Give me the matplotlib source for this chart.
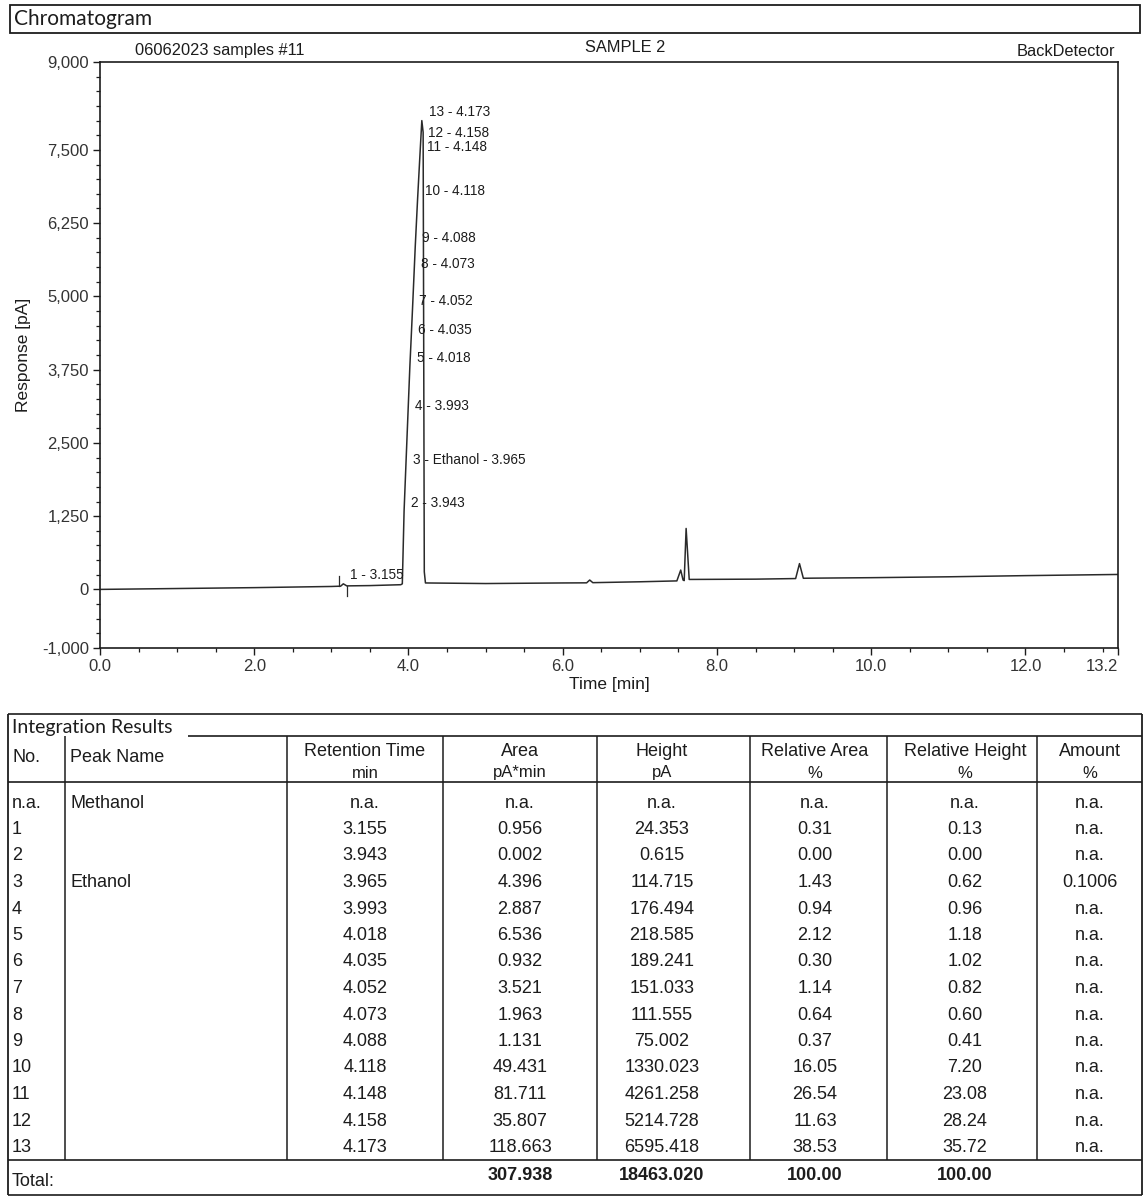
import matplotlib
matplotlib.use("Agg")
import matplotlib.pyplot as plt
from matplotlib.patches import Rectangle
from matplotlib.ticker import FixedLocator, MultipleLocator, FuncFormatter

plt.rcParams['font.family'] = ['Liberation Sans', 'DejaVu Sans']

INK = '#1c1c1c'

# ---- detected peaks (labelled on the trace) ----
peak_no = [1, 2, 3, 4, 5, 6, 7, 8, 9, 10, 11, 12, 13]
peak_name = ["", "", "Ethanol", "", "", "", "", "", "", "", "", "", ""]
peak_rt = [3.155, 3.943, 3.965, 3.993, 4.018, 4.035, 4.052, 4.073, 4.088,
           4.118, 4.148, 4.158, 4.173]
peak_top = [95, 1340, 2070, 2990, 3810, 4290, 4780, 5410, 5860,
            6660, 7400, 7640, 8000]

# ---- rest of the detector trace (time in min, response in pA) ----
trace_t = [0.0, 1.0, 2.0, 3.0, 3.12, 3.20, 3.5, 3.90, 3.92,
           4.19, 4.205, 4.22, 5.0, 6.0, 6.31, 6.35, 6.39, 7.0,
           7.48, 7.53, 7.56, 7.575, 7.60, 7.64, 8.5,
           9.02, 9.07, 9.12, 9.25, 10.0, 11.0, 12.0, 13.2]
trace_pa = [0, 15, 30, 50, 55, 60, 65, 80, 95,
            7800, 300, 110, 100, 110, 112, 160, 115, 130,
            145, 330, 160, 150, 1040, 170, 175,
            185, 440, 190, 192, 200, 215, 235, 255]
peak1_marks = [3.10, 3.20]

# ---- integration results table ----
tab_no = ["n.a."] + [str(n) for n in peak_no]
tab_name = ["Methanol", "", "", "Ethanol", "", "", "", "", "", "", "", "", "", ""]
tab_rt = [None] + peak_rt
tab_area = [None, 0.956, 0.002, 4.396, 2.887, 6.536, 0.932, 3.521, 1.963,
            1.131, 49.431, 81.711, 35.807, 118.663]
tab_height = [None, 24.353, 0.615, 114.715, 176.494, 218.585, 189.241, 151.033,
              111.555, 75.002, 1330.023, 4261.258, 5214.728, 6595.418]
tab_rel_area = [None, 0.31, 0.00, 1.43, 0.94, 2.12, 0.30, 1.14, 0.64, 0.37,
                16.05, 26.54, 11.63, 38.53]
tab_rel_height = [None, 0.13, 0.00, 0.62, 0.96, 1.18, 1.02, 0.82, 0.60, 0.41,
                  7.20, 23.08, 28.24, 35.72]
tab_amount = [None, None, None, 0.1006, None, None, None, None, None, None,
              None, None, None, None]
total_area = 307.938
total_height = 18463.020
total_rel_area = 100.00
total_rel_height = 100.00

y_ticks = [-1000, 0, 1250, 2500, 3750, 5000, 6250, 7500, 9000]
x_ticks = [0.0, 2.0, 4.0, 6.0, 8.0, 10.0, 12.0, 13.2]

W, H = 1144, 1200
fig = plt.figure(figsize=(W / 100, H / 100), dpi=100)
fig.patch.set_facecolor('white')

# page overlay in pixel units for boxes, headings and the table
ov = fig.add_axes([0, 0, 1, 1])
ov.set_xlim(0, W)
ov.set_ylim(H, 0)
ov.axis('off')

def hline(y, x0=8, x1=1142, lw=1.2):
    ov.plot([x0, x1], [y, y], color=INK, lw=lw, solid_capstyle='butt')

def vline(x, y0, y1, lw=1.1):
    ov.plot([x, x], [y0, y1], color=INK, lw=lw, solid_capstyle='butt')

# section header
ov.add_patch(Rectangle((10, 5), 1130, 28, fill=False, ec=INK, lw=1.3))
ov.text(14, 19, "Chromatogram", family='Lato', fontsize=15, color=INK, va='center')

ov.text(135, 50, "06062023 samples #11", fontsize=11.8, color=INK, va='center')
ov.text(625, 47, "SAMPLE 2", fontsize=11.8, color=INK, va='center', ha='center')
ov.text(1115, 51, "BackDetector", fontsize=11.8, color=INK, va='center', ha='right')

# ---- chromatogram ----
ax = fig.add_axes([100 / W, 1 - 648 / H, 1018 / W, (648 - 62) / H])
pts = sorted(zip(trace_t + peak_rt, trace_pa + peak_top))
ax.plot([p[0] for p in pts], [p[1] for p in pts], color='#2a2a2a', lw=1.1)

for t, d in zip(peak1_marks, [1, -1]):
    ax.plot([t, t], [60, 60 + d * 170], color='#2a2a2a', lw=0.9)

for no, name, rt, top in zip(peak_no, peak_name, peak_rt, peak_top):
    lab = f"{no} - {name} - {rt:.3f}" if name else f"{no} - {rt:.3f}"
    ax.annotate(lab, (rt, top), xytext=(5, 6), textcoords='offset points',
                fontsize=9.8, color=INK, va='center', ha='left')

ax.set_xlim(0, 13.2)
ax.set_ylim(-1000, 9000)
ax.xaxis.set_major_locator(FixedLocator(x_ticks))
ax.xaxis.set_minor_locator(MultipleLocator(0.5))
ax.xaxis.set_major_formatter(FuncFormatter(lambda v, p: f"{v:.1f}"))
ax.yaxis.set_major_locator(FixedLocator(y_ticks))
ax.yaxis.set_minor_locator(MultipleLocator(250))
ax.yaxis.set_major_formatter(FuncFormatter(lambda v, p: f"{v:,.0f}"))
ax.tick_params(which='major', length=5, width=1.0, color=INK, labelsize=12,
               labelcolor='#333333', pad=3)
ax.tick_params(which='minor', length=3, width=0.9, color=INK)
for s in ax.spines.values():
    s.set_linewidth(1.2)
    s.set_color(INK)
ax.get_xticklabels()[-1].set_ha('right')
ax.set_xlabel("Time [min]", fontsize=12.5, color=INK, labelpad=2)
ax.set_ylabel("Response [pA]", fontsize=12.5, color=INK, labelpad=8)

# ---- integration results table ----
hline(714)
hline(736, x0=188)
hline(782)
hline(1160)
hline(1195)
vline(8, 714, 1195, lw=1.3)
vline(1142, 714, 1195, lw=1.3)
for x in [65, 287, 443, 597, 750, 887, 1037]:
    vline(x, 736, 1160)

ov.text(12, 733, "Integration Results", family='Lato', fontsize=14,
        color=INK, va='baseline')

FS = 13
ov.text(12, 757, "No.", fontsize=FS, color=INK, va='center')
ov.text(70, 757, "Peak Name", fontsize=FS, color=INK, va='center')

col_cx = [365, 520, 662, 815, 965, 1090]
col_head = [("Retention Time", "min"), ("Area", "pA*min"), ("Height", "pA"),
            ("Relative Area", "%"), ("Relative Height", "%"), ("Amount", "%")]
for cx, (h1, h2) in zip(col_cx, col_head):
    ov.text(cx, 752, h1, fontsize=FS, color=INK, va='center', ha='center')
    ov.text(cx, 773, h2, fontsize=FS - 1, color=INK, va='center', ha='center')

def fmt(v, nd):
    return "n.a." if v is None else f"{v:.{nd}f}"

row_y0, row_dy = 803, 26.5
cols = [(tab_rt, 3), (tab_area, 3), (tab_height, 3), (tab_rel_area, 2),
        (tab_rel_height, 2), (tab_amount, 4)]
for i in range(len(tab_no)):
    y = row_y0 + i * row_dy
    ov.text(12, y, tab_no[i], fontsize=FS, color=INK, va='center')
    if tab_name[i]:
        ov.text(70, y, tab_name[i], fontsize=FS, color=INK, va='center')
    for cx, (vals, nd) in zip(col_cx, cols):
        ov.text(cx, y, fmt(vals[i], nd), fontsize=FS, color=INK,
                va='center', ha='center')

ov.text(12, 1182, "Total:", fontsize=FS, color=INK, va='center')
for cx, v, nd in zip(col_cx[1:5], [total_area, total_height, total_rel_area, total_rel_height],
                     [3, 3, 2, 2]):
    ov.text(cx, 1176, f"{v:.{nd}f}", fontsize=FS, color=INK, va='center',
            ha='center', fontweight='bold')

fig.savefig("out.png", dpi=100, facecolor='white')
